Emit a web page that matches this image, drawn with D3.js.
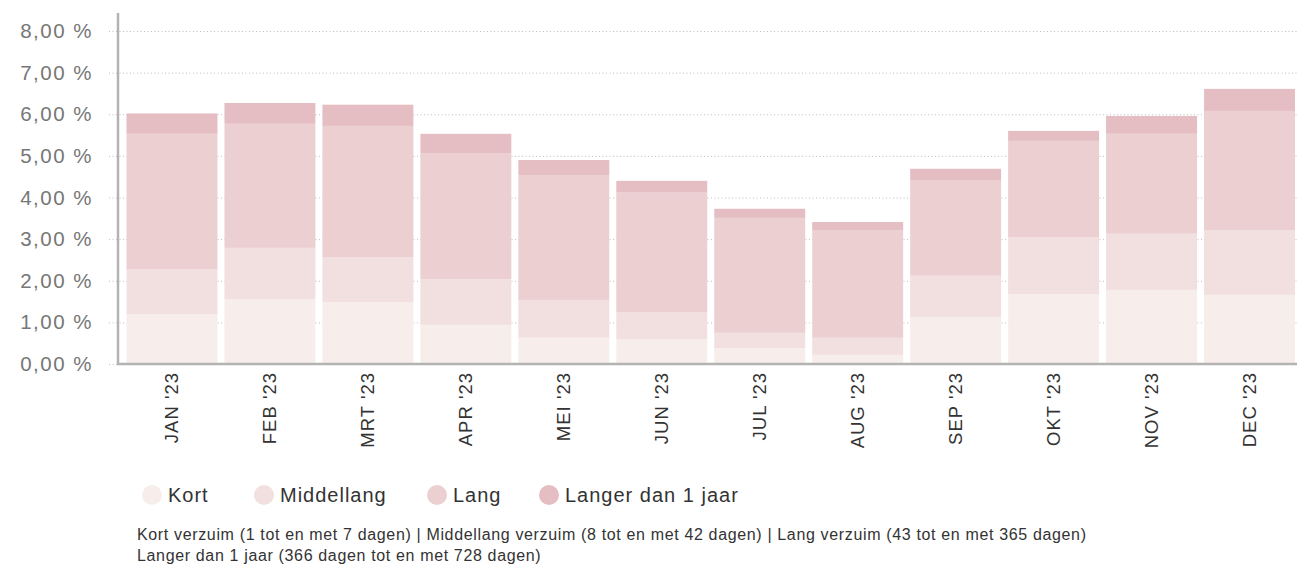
<!DOCTYPE html>
<html>
<head>
<meta charset="utf-8">
<title>verzuim 2023</title>
<script src="https://cdn.jsdelivr.net/npm/d3@7"></script>
<style>
  body { margin: 0; background: #fff; }
  text { font-family: "Liberation Sans", Arial, sans-serif; }
</style>
</head>
<body>
<div id="container"></div>
<script>
var months = ["JAN '23","FEB '23","MRT '23","APR '23","MEI '23","JUN '23","JUL '23","AUG '23","SEP '23","OKT '23","NOV '23","DEC '23"];
var kort       = [1.20, 1.56, 1.49, 0.94, 0.63, 0.60, 0.38, 0.22, 1.13, 1.68, 1.78, 1.66];
var middellang = [1.07, 1.23, 1.08, 1.10, 0.91, 0.65, 0.37, 0.41, 0.99, 1.37, 1.35, 1.56];
var lang       = [3.26, 2.98, 3.15, 3.03, 3.00, 2.88, 2.76, 2.59, 2.30, 2.31, 2.40, 2.86];
var langer     = [0.49, 0.50, 0.51, 0.46, 0.36, 0.27, 0.22, 0.19, 0.27, 0.24, 0.43, 0.53];
var series = ["Kort","Middellang","Lang","Langer dan 1 jaar"];
var colors = ["#f7eeec","#f2e0e0","#ebcfd1","#e4bec2"];
var yTicks = [0,1,2,3,4,5,6,7,8];
var notes = ["Kort verzuim (1 tot en met 7 dagen) | Middellang verzuim (8 tot en met 42 dagen) | Lang verzuim (43 tot en met 365 dagen)",
             "Langer dan 1 jaar (366 dagen tot en met 728 dagen)"];

var W = 1297, H = 565;
var svg = d3.select("#container").append("svg").attr("width", W).attr("height", H);

var table = months.map(function(m, i){
  return {month: m, "Kort": kort[i], "Middellang": middellang[i], "Lang": lang[i], "Langer dan 1 jaar": langer[i]};
});
var stacked = d3.stack().keys(series)(table);

var x = d3.scaleBand().domain(months).range([119.5, 1302]).paddingInner(0.0715).paddingOuter(0.0715);
var y = d3.scaleLinear().domain([0,8]).range([364, 31]);
var color = d3.scaleOrdinal().domain(series).range(colors);

// grid + y labels
var yAxis = d3.axisLeft(y).tickValues(yTicks)
  .tickSize(-(W - 109))
  .tickPadding(18)
  .tickFormat(function(d){ return d3.format(".2f")(d).replace(".", ",") + " %"; });
var gy = svg.append("g").attr("transform", "translate(109,0)").call(yAxis);
gy.select(".domain").remove();
gy.selectAll(".tick line").attr("stroke", "#bdbdbd").attr("stroke-dasharray", "1,2.5");
gy.selectAll(".tick text").attr("fill", "#777")
  .style("font-size", "20.5px").style("letter-spacing", "1.5px").attr("x", -16);

// bars
svg.append("g").selectAll("g").data(stacked).enter().append("g")
  .attr("fill", function(d){ return color(d.key); })
  .selectAll("rect").data(function(d){ return d; }).enter().append("rect")
  .attr("x", function(d){ return x(d.data.month); })
  .attr("width", x.bandwidth())
  .attr("y", function(d){ return y(d[1]); })
  .attr("height", function(d){ return y(d[0]) - y(d[1]); });

// axes lines
svg.append("line").attr("x1", 118).attr("x2", 118).attr("y1", 13).attr("y2", 365)
  .attr("stroke", "#b3b3b3").attr("stroke-width", 2.5);
svg.append("line").attr("x1", 117).attr("x2", W).attr("y1", 364).attr("y2", 364)
  .attr("stroke", "#b3b3b3").attr("stroke-width", 2.5);

// x labels
svg.append("g").selectAll("text").data(months).enter().append("text")
  .attr("transform", function(d){ return "translate(" + (x(d) + x.bandwidth()/2) + ",372) rotate(-90)"; })
  .attr("text-anchor", "end")
  .attr("dy", "0.35em")
  .attr("fill", "#333")
  .style("font-size", "18.5px")
  .style("letter-spacing", "1px")
  .text(function(d){ return d; });

// legend
var legendX = [152, 264, 437, 549];
series.forEach(function(s, i){
  svg.append("circle").attr("cx", legendX[i]).attr("cy", 495).attr("r", 10).attr("fill", colors[i]);
  svg.append("text").attr("x", legendX[i] + 16).attr("y", 502)
    .attr("fill", "#333").style("font-size", "20px").style("letter-spacing", "1px").text(s);
});

// footnote
svg.append("g").selectAll("text").data(notes).enter().append("text")
  .attr("x", 137)
  .attr("y", function(d, i){ return 540 + i * 21; })
  .attr("fill", "#333")
  .style("font-size", "16px")
  .style("letter-spacing", "0.65px")
  .text(function(d){ return d; });
</script>
</body>
</html>
